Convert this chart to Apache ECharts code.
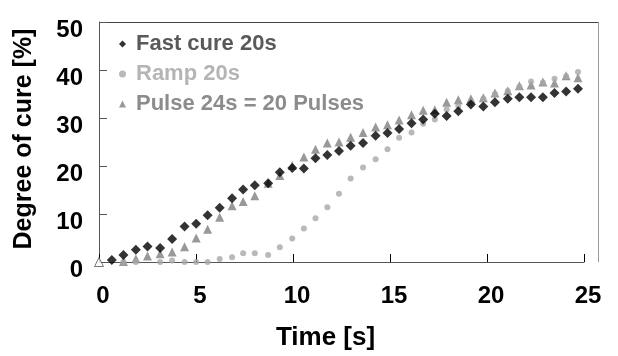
<!DOCTYPE html>
<html><head><meta charset="utf-8">
<script src="https://cdn.jsdelivr.net/npm/echarts@6/dist/echarts.min.js"></script>
<style>html,body{margin:0;padding:0;background:#fff}#c{width:618px;height:356px}</style>
</head><body><div id="c"></div>
<script>
// Time [s] of each reading
const times = [0.66,1.26,1.90,2.50,3.15,3.77,4.41,5.01,5.60,6.22,6.86,7.43,8.03,8.72,9.32,9.96,10.56,11.16,11.77,12.37,
  12.97,13.61,14.26,14.87,15.47,16.11,16.71,17.31,17.92,18.52,19.17,19.81,20.41,21.07,21.67,22.27,22.88,23.48,24.08,24.69];
const fastCure = [0.4,1.45,2.55,3.25,2.9,4.8,7.4,7.95,9.75,11.3,13.3,15.1,16.0,16.4,18.7,19.6,19.5,21.6,22.3,23.1,
  24.2,24.8,26.3,26.9,27.7,28.9,29.7,30.9,30.4,31.4,32.8,32.4,33.3,34.0,34.3,34.3,34.3,35.2,35.5,36.1];
const ramp = [null,0,0,null,0,0.3,0,0,0,0.6,1.0,1.8,1.8,1.45,3.05,4.9,7.0,9.1,11.4,14.2,
  17.4,19.7,21.4,23.5,25.9,27.0,28.8,29.7,31.8,32.5,33.0,34.0,35.0,35.6,36.5,37.6,37.4,38.2,38.7,39.6];
const pulse = [null,0.1,0.7,1.25,1.7,2.1,3.2,5.0,6.8,9.3,11.7,12.6,13.8,16.4,18.0,20.1,21.9,23.5,24.8,25.0,
  26.0,27.0,28.1,28.6,29.6,30.7,31.6,31.7,33.3,33.8,34.0,34.2,35.2,35.7,36.7,36.9,37.5,37.3,38.8,38.4];
const startPoint = [0, 0];
const seriesNames = ['Fast cure 20s', 'Ramp 20s', 'Pulse 24s = 20 Pulses'];
const xTicks = [0, 5, 10, 15, 20, 25];
const yTicks = [0, 10, 20, 30, 40, 50];

function pairs(vals){ const out=[]; vals.forEach((v,i)=>{ if(v!==null) out.push([times[i], v]); }); return out; }

const FONT = '"Liberation Sans", Arial, sans-serif';
const chart = echarts.init(document.getElementById('c'), null, {renderer:'canvas'});
const pulseData = [{value: startPoint, itemStyle:{color:'#fff', borderColor:'#555', borderWidth:1}}].concat(pairs(pulse));
chart.setOption({
  animation:false,
  grid:{left:99, top:22, right:34, bottom:93, containLabel:false},
  legend:{
    orient:'vertical', left:114, top:28, itemGap:8, itemWidth:7, itemHeight:7,
    data:[
      {name:seriesNames[0], textStyle:{color:'#595959'}},
      {name:seriesNames[1], textStyle:{color:'#b5b5b5'}},
      {name:seriesNames[2], textStyle:{color:'#8c8c8c'}}
    ],
    textStyle:{fontFamily:FONT, fontWeight:'bold', fontSize:22, lineHeight:22, padding:[0,0,0,5]}
  },
  xAxis:{
    type:'value', min:0, max:25, interval:5,
    name:'Time [s]', nameLocation:'middle', nameGap:63,
    nameTextStyle:{fontFamily:FONT, fontWeight:'bold', fontSize:26, color:'#000', padding:[0,32,0,0]},
    axisLine:{show:true, lineStyle:{color:'#555', width:1}},
    axisTick:{show:true, inside:true, length:8, lineStyle:{color:'#000'}},
    axisLabel:{fontFamily:FONT, fontWeight:'bold', fontSize:24, color:'#000', margin:22, padding:[0,0,0,8]},
    splitLine:{show:false}
  },
  yAxis:{
    type:'value', min:0, max:50, interval:10,
    name:'Degree of cure [%]', nameLocation:'middle', nameGap:62, nameRotate:90,
    nameTextStyle:{fontFamily:FONT, fontWeight:'bold', fontSize:25, color:'#000', padding:[0,0,0,6]},
    axisLine:{show:true, lineStyle:{color:'#555', width:1}},
    axisTick:{show:true, inside:true, length:8, lineStyle:{color:'#555'}},
    axisLabel:{fontFamily:FONT, fontWeight:'bold', fontSize:24, color:'#000', margin:16, verticalAlign:'top', lineHeight:16},
    splitLine:{show:false}
  },
  graphic:[
    {type:'line', shape:{x1:99, y1:22.5, x2:598.5, y2:22.5}, style:{stroke:'#444', lineWidth:1}, silent:true},
    {type:'line', shape:{x1:598.5, y1:22, x2:598.5, y2:262}, style:{stroke:'#999', lineWidth:1}, silent:true}
  ],
  series:[
    {name:seriesNames[2], type:'scatter', symbol:'triangle', symbolSize:9, itemStyle:{color:'#808080'}, data:pulseData, z:2},
    {name:seriesNames[1], type:'scatter', symbol:'circle', symbolSize:6, itemStyle:{color:'#a8a8a8'}, data:pairs(ramp), z:3},
    {name:seriesNames[0], type:'scatter', symbol:'diamond', symbolSize:10, itemStyle:{color:'#000'}, data:pairs(fastCure), z:4}
  ]
});
</script>
</body></html>
